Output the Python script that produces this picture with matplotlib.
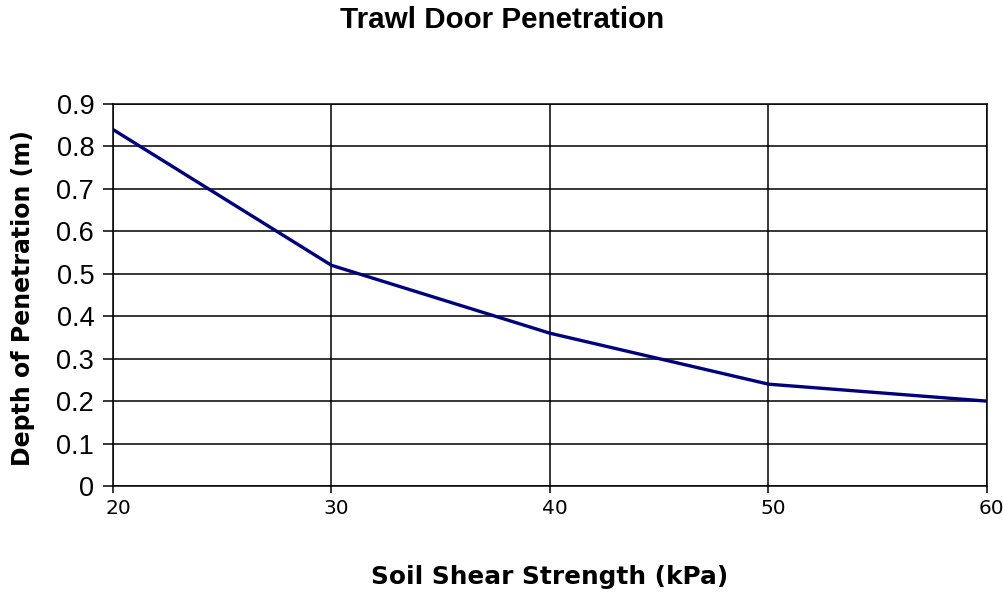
import matplotlib
matplotlib.use('Agg')
import matplotlib.pyplot as plt
from matplotlib.transforms import ScaledTranslation

plt.rcParams['font.family'] = ['Liberation Sans', 'DejaVu Sans']

strength = [20, 30, 40, 50, 60]
depth = [0.84, 0.52, 0.36, 0.24, 0.20]

fig = plt.figure(figsize=(10.04, 5.93), dpi=100)
ax = fig.add_axes([0.1125, 0.1804, 0.8705, 0.6442])

ax.plot(strength, depth, color='#00007f', linewidth=2.4, solid_capstyle='butt')

ax.set_xlim(20, 60)
ax.set_ylim(0, 0.9)
ax.set_xticks([20, 30, 40, 50, 60])
ax.set_xticklabels([str(v) for v in [20, 30, 40, 50, 60]], family='DejaVu Sans')
ax.set_yticks([i / 10 for i in range(10)])
ax.set_yticklabels(['0'] + ['%.1f' % (i / 10) for i in range(1, 10)])
ax.grid(True, color='black', linewidth=1.1)
for s in ax.spines.values():
    s.set_linewidth(1.1)
ax.tick_params(axis='y', labelsize=19.5, length=7, width=1.1, pad=6.5)
ax.tick_params(axis='x', labelsize=14.5, length=5, width=1.1, pad=4)

# x tick labels sit a little right of their ticks
shift = ScaledTranslation(0.05, 0, fig.dpi_scale_trans)
for lab in ax.get_xticklabels():
    lab.set_transform(lab.get_transform() + shift)

fig.text(550 / 1004, 1 - 577 / 593, 'Soil Shear Strength (kPa)', ha='center', va='center',
         fontsize=17.8, fontweight='bold', family='DejaVu Sans')
fig.text(23 / 1004, 1 - 298 / 593, 'Depth of Penetration (m)', ha='center', va='center',
         rotation=90, fontsize=17, fontweight='bold', family='DejaVu Sans')
fig.text(0.5, 1 - 20 / 593, 'Trawl Door Penetration', ha='center', va='center',
         fontsize=21.3, fontweight='bold')

fig.savefig('out.png', dpi=100)
